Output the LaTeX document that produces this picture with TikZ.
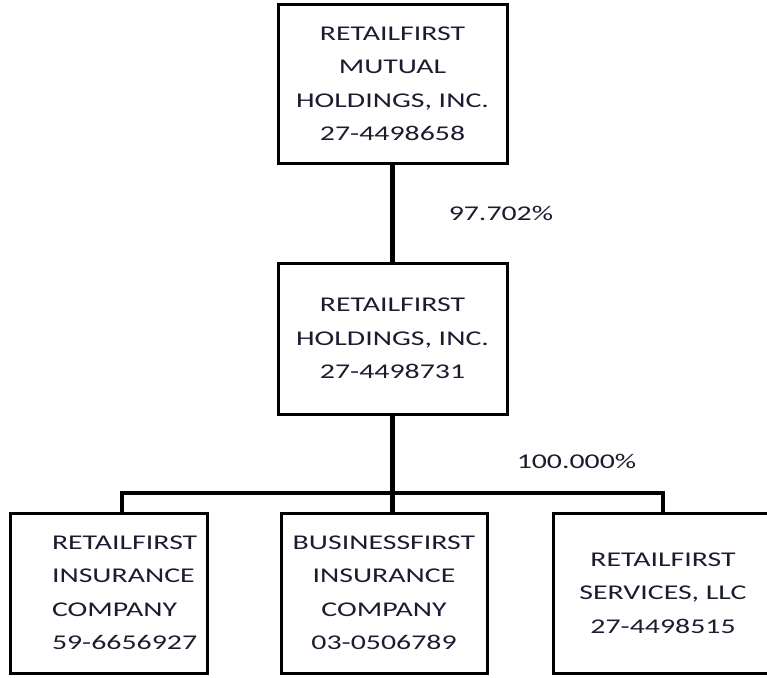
\documentclass[tikz,border=0pt]{standalone}
\usepackage{fontspec}
\setmainfont{Carlito}[FakeStretch=1.42]
\usetikzlibrary{positioning}
\definecolor{inkblue}{RGB}{28,28,48}

\begin{document}
\begin{tikzpicture}[x=1pt, y=-1pt,
  every node/.style={font=\fontsize{21}{33.5}\selectfont, text=inkblue},
  orgbox/.style={draw, rectangle, line width=3pt, align=center, inner sep=0pt},
  conn/.style={line width=4.5pt},
  share/.style={inner sep=0pt}]
\useasboundingbox (0,0) rectangle (767,677);

\node (mutual) [orgbox, minimum width=229pt, minimum height=158pt] at (392.5,84) {RETAILFIRST\\MUTUAL\\HOLDINGS, INC.\\27-4498658};
\node (holdings) [orgbox, minimum width=229pt, minimum height=151pt] at (392.5,338.5) {RETAILFIRST\\HOLDINGS, INC.\\27-4498731};
\node (insurance) [orgbox, align=left, text width=113pt, inner xsep=42pt, minimum height=160pt] at (108.5,593) {\mbox{RETAILFIRST}\\\mbox{INSURANCE}\\\mbox{COMPANY}\\\mbox{59-6656927}};
\node (business) [orgbox, minimum width=206pt, minimum height=160pt] at (384,593) {BUSINESSFIRST\\INSURANCE\\COMPANY\\03-0506789};
\node (services) [orgbox, minimum width=220pt, minimum height=160pt] at (663,593) {RETAILFIRST\\SERVICES, LLC\\27-4498515};

% bus line below the holdings box
\coordinate (bus) at (392.5,493);
\coordinate (busL) at (122,493);
\coordinate (busR) at (663,493);

\draw[conn] (mutual) -- (holdings) node[share, midway, right=54pt] {97.702\%};
\draw[conn] (holdings) -- (bus) node[share, pos=0.595, right=122pt] {100.000\%};
\draw[conn] (insurance.north -| busL) -- (busL) -- (busR) -- (services.north -| busR);
\draw[conn] (bus) -- (business.north -| bus);
\end{tikzpicture}
\end{document}
